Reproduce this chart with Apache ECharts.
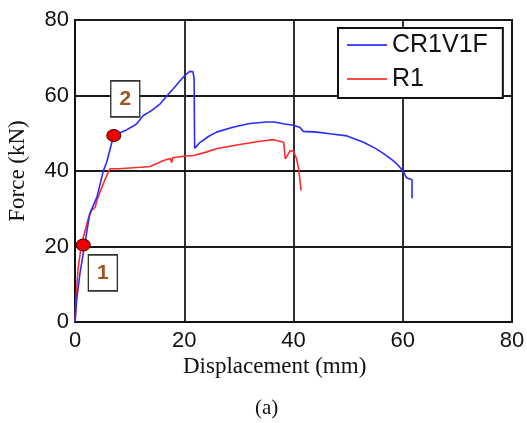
<!DOCTYPE html>
<html>
<head>
<meta charset="utf-8">
<script src="https://cdn.jsdelivr.net/npm/echarts@6/dist/echarts.min.js"></script>
<style>
html,body{margin:0;padding:0;background:#fff;}
#chart{width:527px;height:423px;}
</style>
</head>
<body>
<div id="chart"></div>
<script>
// CR1V1F: displacement (mm) and force (kN)
const cr1v1fDisp = [0,0.3,0.9,1.8,2.7,4.0,5.2,5.8,7.0,8.0,9.2,10.5,11.3,12.5,14.0,15.6,17.0,18.0,19.0,20.1,21.0,21.6,21.8,21.9,22.9,24.5,25.9,28.9,32.0,35.1,36.5,38.1,40.0,41.2,41.8,44.3,47.0,49.8,52.8,55.0,56.5,58.0,58.9,60.0,60.7,61.7,61.7];
const cr1v1fForce = [0,5.7,12.8,20.7,28.7,33.0,40.1,42.3,49.0,50.0,50.7,51.8,52.5,54.7,56.0,57.8,60.2,61.8,63.5,65.3,66.4,66.3,64.5,46.0,47.6,49.2,50.3,51.6,52.6,53.0,53.0,52.5,52.1,51.5,50.5,50.3,49.8,49.3,47.6,46.0,44.6,43.0,41.9,40.1,38.2,37.7,32.8];
// R1
const r1Disp = [0,0.2,0.4,0.6,1.2,2.4,3.0,3.7,4.0,5.0,5.8,6.4,8.0,10.0,12.0,13.7,15.0,16.2,17.5,17.7,17.9,19.8,21.7,24.0,25.9,29.6,33.9,36.3,37.5,38.2,38.5,39.4,40.0,40.5,40.9,41.4];
const r1Force = [0,5.7,11.0,14.5,20.7,27.3,29.5,30.4,32.2,36.0,38.8,40.6,40.6,40.8,41.0,41.2,42.0,42.8,43.3,42.2,43.5,43.9,44.1,45.0,45.9,46.9,47.9,48.3,47.9,47.6,43.2,45.4,45.2,43.5,41.0,34.8];
// Marked points (red dots)
const markDisp = [1.5, 7.1];
const markForce = [20.4, 49.4];
// Numbered boxes
const boxLabels = ['1', '2'];
const boxDisp = [5.1, 9.2];
const boxForce = [13.0, 59.1];
// Axis ticks
const xTicks = [0, 20, 40, 60, 80];
const yTicks = [0, 20, 40, 60, 80];
const seriesNames = ['CR1V1F', 'R1'];

const pair = (xs, ys) => xs.map((x, i) => [x, ys[i]]);

const chart = echarts.init(document.getElementById('chart'), null, {renderer: 'canvas'});
const axisCommon = {
  type: 'value',
  axisLine: {show: true, lineStyle: {color: '#111', width: 2}},
  axisTick: {show: false},
  splitLine: {show: true, lineStyle: {color: '#1a1a1a', width: 1.8}},
};
chart.setOption({
  animation: false,
  backgroundColor: '#fff',
  grid: {left: 75, right: 15, top: 20, bottom: 101, show: true, borderColor: '#111', borderWidth: 2, containLabel: false, outerBoundsMode: 'none'},
  xAxis: Object.assign({}, axisCommon, {
    min: xTicks[0], max: xTicks[xTicks.length - 1], interval: xTicks[1] - xTicks[0],
    axisLabel: {margin: 8, fontFamily: 'Liberation Sans, Arial', fontSize: 22, color: '#111'}
  }),
  yAxis: Object.assign({}, axisCommon, {
    min: yTicks[0], max: yTicks[yTicks.length - 1], interval: yTicks[1] - yTicks[0],
    name: 'Force (kN)', nameLocation: 'middle', nameGap: 46, nameRotate: 90,
    nameTextStyle: {fontFamily: 'Liberation Serif, Times New Roman', fontSize: 23, color: '#111'},
    axisLabel: {margin: 6, fontFamily: 'Liberation Sans, Arial', fontSize: 22, color: '#111'}
  }),
  legend: {
    orient: 'vertical', left: 338, top: 28,
    data: seriesNames,
    icon: 'rect',
    itemWidth: 40, itemHeight: 2, itemGap: 8,
    padding: [4, 15, 6, 9],
    borderColor: '#111', borderWidth: 2, backgroundColor: '#fff',
    textStyle: {fontFamily: 'Liberation Sans, Arial', fontSize: 25, color: '#111', lineHeight: 26}
  },
  graphic: [
    {type: 'text', left: 183, top: 355, style: {text: 'Displacement (mm)', font: '23px "Liberation Serif", "Times New Roman", serif', fill: '#111'}},
    {type: 'text', left: 255, top: 398, style: {text: '(a)', font: '21px "Liberation Serif", "Times New Roman", serif', fill: '#111'}}
  ],
  series: [
    {name: seriesNames[0], type: 'line', data: pair(cr1v1fDisp, cr1v1fForce), symbol: 'none', lineStyle: {color: '#2b2bff', width: 1.6}, itemStyle: {color: '#4a4aff'}, z: 3},
    {name: seriesNames[1], type: 'line', data: pair(r1Disp, r1Force), symbol: 'none', lineStyle: {color: '#ff2b2b', width: 1.6}, itemStyle: {color: '#ff4a4a'}, z: 2},
    {name: 'points', type: 'scatter', data: pair(markDisp, markForce), symbol: 'circle', symbolSize: [14, 12], itemStyle: {color: '#ee0000', borderColor: '#550000', borderWidth: 1, opacity: 1}, z: 5},
    {name: 'boxes', type: 'scatter', data: boxDisp.map((x, i) => ({value: [x, boxForce[i]], name: boxLabels[i]})),
      symbol: 'rect', symbolSize: [29, 36],
      itemStyle: {color: '#fff', borderColor: '#333', borderWidth: 1.5, opacity: 1},
      label: {show: true, position: 'inside', formatter: p => p.name, fontFamily: 'Liberation Sans, Arial', fontWeight: 'bold', fontSize: 21, color: '#a0521f'},
      z: 6}
  ]
});
</script>
</body>
</html>
